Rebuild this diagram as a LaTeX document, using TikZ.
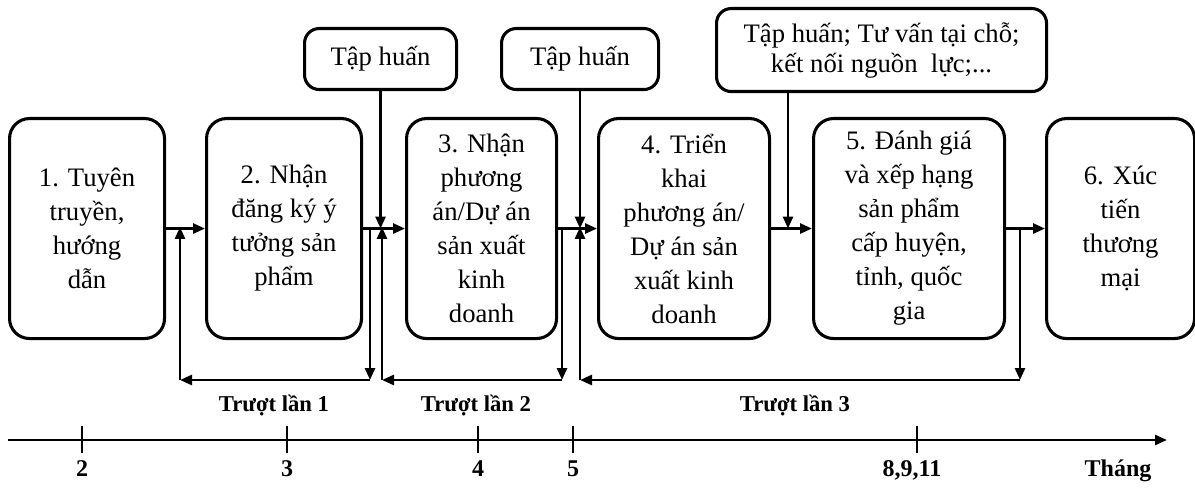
\documentclass[tikz,border=0pt]{standalone}
\usepackage{fontspec}
\setmainfont{Liberation Serif}
\usetikzlibrary{arrows.meta}
\begin{document}
\begin{tikzpicture}[x=0.75pt,y=-0.75pt,
  stepbox/.style={draw, line width=2.3pt, rounded corners=15pt, align=center,
    inner sep=0pt, minimum height=165pt, anchor=north west,
    font=\fontsize{20}{25.5}\selectfont},
  helpbox/.style={draw, line width=2.3pt, rounded corners=11pt, align=center,
    inner sep=0pt, anchor=north west, font=\fontsize{20}{22.5}\selectfont},
  arr/.style={line width=2pt, -{Triangle[length=9pt,width=7.5pt]}},
  lbl/.style={font=\bfseries\fontsize{17}{20}\selectfont, anchor=base},
  tick/.style={line width=2pt}]
\useasboundingbox (0,0) rectangle (1195,488);

% main steps
\node[stepbox, minimum width=116.25pt] (b1) at (8,117) {1. Tuyên\\truyền,\\hướng\\dẫn};
\node[stepbox, minimum width=116.25pt] (b2) at (205,117) {2. Nhận\\đăng ký ý\\tưởng sản\\phẩm};
\node[stepbox, minimum width=112.5pt] (b3) at (405,117) {3. Nhận\\phương\\án/Dự án\\sản xuất\\kinh\\doanh};
\node[stepbox, minimum width=128.25pt] (b4) at (597,117) {4. Triển\\khai\\phương án/\\Dự án sản\\xuất kinh\\doanh};
\node[stepbox, minimum width=143.25pt] (b5) at (812,117) {5. Đánh giá\\và xếp hạng\\sản phẩm\\cấp huyện,\\tỉnh, quốc\\gia};
\node[stepbox, minimum width=111pt] (b6) at (1045,117) {6. Xúc\\tiến\\thương\\mại};

% support boxes
\node[helpbox, minimum width=114pt, minimum height=45.75pt] (tA) at (303,27) {Tập huấn};
\node[helpbox, minimum width=117.75pt, minimum height=45.75pt] (tB) at (500,27) {Tập huấn};
\node[helpbox, minimum width=247.5pt, minimum height=62.25pt] (tC) at (715,7) {Tập huấn; Tư vấn tại chỗ;\\kết nối nguồn\ \ lực;...};

% flow between steps
\draw[arr] (b1.east) -- (b2.west);
\draw[arr] (b2.east) -- (b3.west);
\draw[arr] (b3.east) -- (b4.west);
\draw[arr] (b4.east) -- (b5.west);
\draw[arr] (b5.east) -- (b6.west);

% support inputs
\draw[arr] (tA.south) -- (tA.south |- b2.east);
\draw[arr] (tB.south) -- (tB.south |- b3.east);
\coordinate (c3) at (788,90);
\draw[arr] (c3) -- (c3 |- b4.east);

% slip loops
\coordinate (s1a) at (370,227); \coordinate (s1b) at (370,380);
\coordinate (s1c) at (180,380); \coordinate (s1d) at (180,227);
\draw[arr] (s1a) -- (s1b); \draw[arr] (s1b) -- (s1c); \draw[arr] (s1c) -- (s1d);

\coordinate (s2a) at (562,227); \coordinate (s2b) at (562,380);
\coordinate (s2c) at (382,380); \coordinate (s2d) at (382,227);
\draw[arr] (s2a) -- (s2b); \draw[arr] (s2b) -- (s2c); \draw[arr] (s2c) -- (s2d);

\coordinate (s3a) at (1020,227); \coordinate (s3b) at (1020,380);
\coordinate (s3c) at (580,380); \coordinate (s3d) at (580,227);
\draw[arr] (s3a) -- (s3b); \draw[arr] (s3b) -- (s3c); \draw[arr] (s3c) -- (s3d);

\node[lbl] (sl1) at (274,411) {Trượt lần 1};
\node[lbl] (sl2) at (476,411) {Trượt lần 2};
\node[lbl] (sl3) at (795,411) {Trượt lần 3};

% time axis
\coordinate (t0) at (8,440); \coordinate (t1) at (1167,440);
\draw[arr] (t0) -- (t1);
\foreach \x in {82,287,478,573,917} \draw[tick] (\x,426) -- (\x,453);
\node[lbl, font=\bfseries\fontsize{18}{20}\selectfont] (m2) at (82,476) {2};
\node[lbl, font=\bfseries\fontsize{18}{20}\selectfont] (m3) at (287,476) {3};
\node[lbl, font=\bfseries\fontsize{18}{20}\selectfont] (m4) at (478,476) {4};
\node[lbl, font=\bfseries\fontsize{18}{20}\selectfont] (m5) at (573,476) {5};
\node[lbl, font=\bfseries\fontsize{18}{20}\selectfont] (m8) at (912,476) {8,9,11};
\node[lbl, font=\bfseries\fontsize{18}{20}\selectfont] (mt) at (1118,476) {Tháng};
\end{tikzpicture}
\end{document}
